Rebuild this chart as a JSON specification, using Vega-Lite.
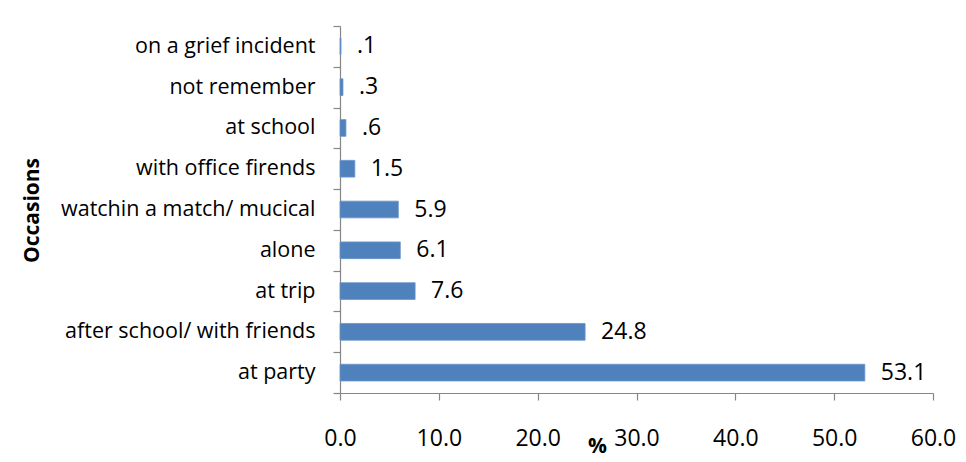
{
  "$schema": "https://vega.github.io/schema/vega-lite/v6.json",
  "width": 593,
  "height": 367,
  "autosize": {"type": "none"},
  "padding": {"left": 340, "top": 26, "right": 33, "bottom": 69},
  "background": "white",
  "config": {
    "view": {"stroke": null},
    "font": "Open Sans",
    "axis": {"grid": false, "domainColor": "#868686", "tickColor": "#868686", "domainWidth": 1.2, "tickWidth": 1.2, "tickSize": 7, "labelColor": "black", "titleColor": "black"}
  },
  "data": {
    "values": [
      {"occasion": "on a grief incident", "pct": 0.1, "label": ".1"},
      {"occasion": "not remember", "pct": 0.3, "label": ".3"},
      {"occasion": "at school", "pct": 0.6, "label": ".6"},
      {"occasion": "with office firends", "pct": 1.5, "label": "1.5"},
      {"occasion": "watchin a match/ mucical", "pct": 5.9, "label": "5.9"},
      {"occasion": "alone", "pct": 6.1, "label": "6.1"},
      {"occasion": "at trip", "pct": 7.6, "label": "7.6"},
      {"occasion": "after school/ with friends", "pct": 24.8, "label": "24.8"},
      {"occasion": "at party", "pct": 53.1, "label": "53.1"}
    ]
  },
  "encoding": {
    "y": {
      "field": "occasion",
      "type": "nominal",
      "sort": null,
      "scale": {"paddingInner": 0, "paddingOuter": 0},
      "axis": {
        "title": "Occasions",
        "titleFontSize": 21,
        "titleFontWeight": "bold",
        "titleX": -298,
        "titleY": 184,
        "labelFontSize": 21.5,
        "labelPadding": 18,
        "labelLimit": 0,
        "tickBand": "extent"
      }
    },
    "x": {
      "field": "pct",
      "type": "quantitative",
      "scale": {"domain": [0, 60], "nice": false},
      "axis": {
        "title": "%",
        "titleFontSize": 21,
        "titleFontWeight": "bold",
        "titleX": 257,
        "titleY": 42,
        "values": [0, 10, 20, 30, 40, 50, 60],
        "format": ".1f",
        "labelFontSize": 23,
        "labelPadding": 27,
        "labelFlush": false,
        "labelOverlap": false
      }
    }
  },
  "layer": [
    {
      "mark": {"type": "bar", "color": "#4F81BD", "stroke": "#6A94C8", "strokeWidth": 0.8, "height": {"band": 0.41}}
    },
    {
      "mark": {"type": "text", "align": "left", "baseline": "middle", "dx": 16, "fontSize": 23, "color": "black"},
      "encoding": {"text": {"field": "label"}}
    }
  ]
}
